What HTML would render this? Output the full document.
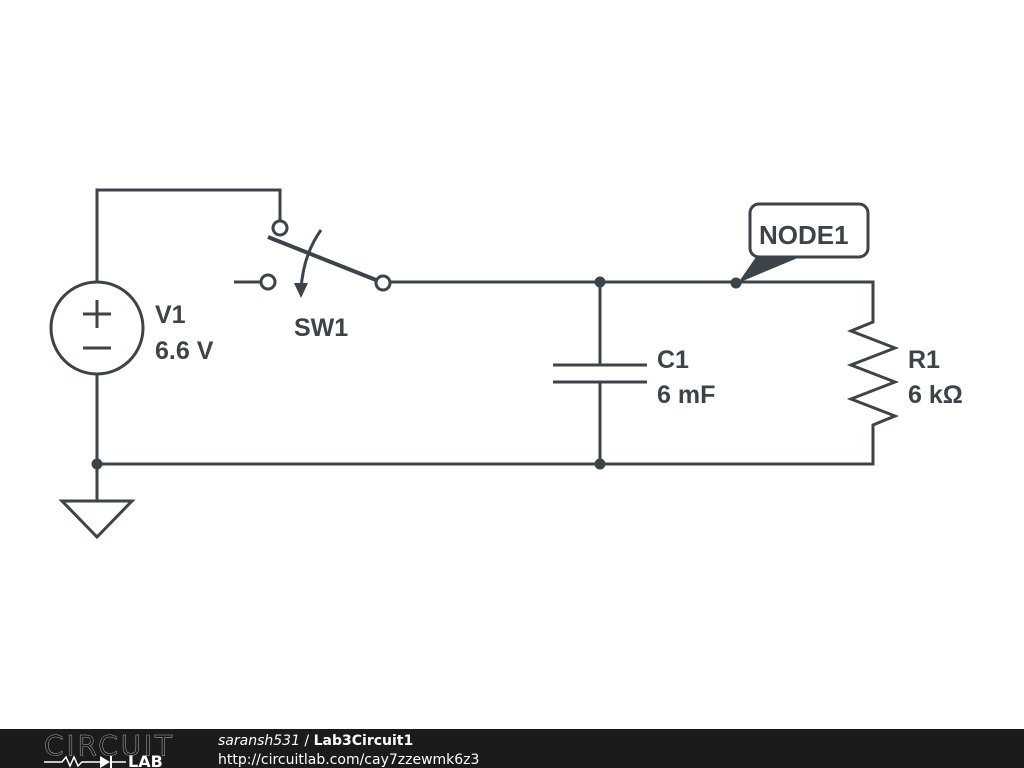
<!DOCTYPE html>
<html><head><style>
html,body{margin:0;padding:0;width:1024px;height:768px;background:#fff;overflow:hidden}
svg{display:block}
</style></head><body>
<svg width="1024" height="768" viewBox="0 0 1024 768" xmlns="http://www.w3.org/2000/svg">
<g stroke="#3d4449" stroke-width="3" fill="none" stroke-linecap="butt">
<polyline points="97,282 97,190 280,190 280,221"/>
<circle cx="97" cy="328" r="46"/>
<line x1="97" y1="374" x2="97" y2="500"/>
<line x1="83" y1="314" x2="111" y2="314"/><line x1="97" y1="300" x2="97" y2="328"/>
<line x1="83" y1="348" x2="111" y2="348"/>
<polygon points="62,501 132,501 97,537"/>
<circle cx="280" cy="228" r="7" fill="#fff"/>
<circle cx="268" cy="282" r="7" fill="#fff"/>
<line x1="234" y1="282" x2="261" y2="282"/>
<line x1="268" y1="237" x2="376" y2="280" stroke-width="4"/>
<circle cx="383" cy="283" r="7" fill="#fff"/>
<path d="M321,230 Q303,255 301,290"/>
<polyline points="390,282 873,282 873,322 851,331 895,348 851,365 895,382 851,399 895,416 873,425 873,464 97,464"/>
<line x1="600" y1="282" x2="600" y2="365"/>
<line x1="553" y1="365" x2="647" y2="365"/>
<line x1="553" y1="382" x2="647" y2="382"/>
<line x1="600" y1="382" x2="600" y2="464"/>
<rect x="750" y="204" width="118" height="53" rx="9" fill="#fff"/>
</g>
<g fill="#3d4449">
<polygon points="294,283 308,283 301,298"/>
<circle cx="97" cy="464" r="5.5"/>
<circle cx="600" cy="464" r="5.5"/>
<circle cx="600" cy="282" r="5.5"/>
<circle cx="736" cy="283" r="5.5"/>
<polygon points="756,257 800,257 738,283"/>
</g>
<g font-family="Liberation Sans, sans-serif" font-weight="bold" font-size="25" fill="#3d4449">
<text x="155" y="323">V1</text><text x="155" y="359">6.6 V</text>
<text x="294" y="336">SW1</text>
<text x="657" y="368">C1</text><text x="657" y="403">6 mF</text>
<text x="908" y="368">R1</text><text x="908" y="403">6 kΩ</text>
<text x="759" y="244" font-size="26">NODE1</text>
</g>
<rect x="0" y="729" width="1024" height="39" fill="#1b1b1b"/>
<g font-family="DejaVu Sans, sans-serif" fill="#fff">
<text x="44" y="755" font-size="28" font-weight="normal" stroke="#fff" stroke-width="0.3" fill="none" textLength="128">CIRCUIT</text>
<text x="128" y="767" font-size="16" font-weight="bold">LAB</text>
<polyline points="44,762 62,762 66,757 70,766 74,757 78,766 82,762 100,762" stroke="#fff" stroke-width="1.5" fill="none"/>
<polygon points="100,756 100,768 110,762" fill="#fff"/>
<line x1="111" y1="756" x2="111" y2="768" stroke="#fff" stroke-width="2"/>
<line x1="111" y1="762" x2="126" y2="762" stroke="#fff" stroke-width="1.5"/>
<text x="218" y="745" font-size="14"><tspan font-style="italic">saransh531</tspan> / <tspan font-weight="bold">Lab3Circuit1</tspan></text>
<text x="218" y="764" font-size="14">http://circuitlab.com/cay7zzewmk6z3</text>
</g>
</svg>
</body></html>
